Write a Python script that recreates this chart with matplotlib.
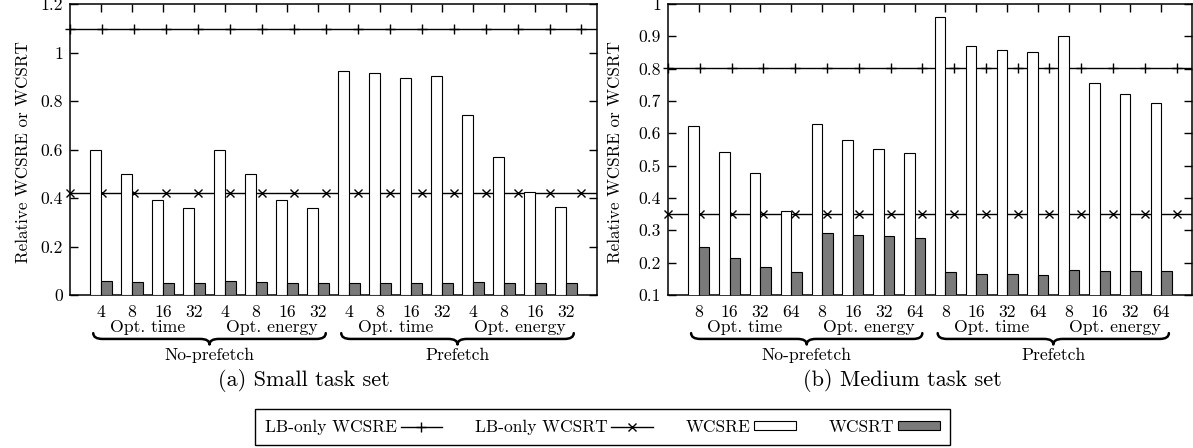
import numpy as np
import matplotlib
matplotlib.use('Agg')
import matplotlib.pyplot as plt
from matplotlib.path import Path
from matplotlib.patches import PathPatch, Patch
from matplotlib.lines import Line2D
import matplotlib.transforms as mtransforms

plt.rcParams['font.family'] = ['cmr10', 'DejaVu Serif']
plt.rcParams['mathtext.fontset'] = 'cm'
plt.rcParams['axes.formatter.use_mathtext'] = True

# data
small_sizes = ['4', '8', '16', '32']
medium_sizes = ['8', '16', '32', '64']
opt_groups = ['Opt. time', 'Opt. energy']
prefetch_groups = ['No-prefetch', 'Prefetch']

small_wcsre = [0.600, 0.500, 0.392, 0.357, 0.600, 0.500, 0.392, 0.357,
               0.925, 0.915, 0.896, 0.903, 0.742, 0.570, 0.423, 0.362]
small_wcsrt = [0.058, 0.055, 0.051, 0.050, 0.058, 0.055, 0.051, 0.050,
               0.050, 0.050, 0.050, 0.050, 0.052, 0.050, 0.050, 0.050]
small_lb_wcsre = 1.095
small_lb_wcsrt = 0.422

medium_wcsre = [0.624, 0.542, 0.478, 0.361, 0.628, 0.580, 0.553, 0.538,
                0.961, 0.871, 0.857, 0.851, 0.901, 0.757, 0.721, 0.693]
medium_wcsrt = [0.249, 0.213, 0.187, 0.170, 0.292, 0.286, 0.282, 0.277,
                0.170, 0.166, 0.164, 0.163, 0.176, 0.174, 0.174, 0.174]
medium_lb_wcsre = 0.803
medium_lb_wcsrt = 0.350

small_yticks = [0, 0.2, 0.4, 0.6, 0.8, 1.0, 1.2]
small_yticklabels = ['0', '0.2', '0.4', '0.6', '0.8', '1', '1.2']
medium_yticks = [0.1, 0.2, 0.3, 0.4, 0.5, 0.6, 0.7, 0.8, 0.9, 1.0]
medium_yticklabels = ['0.1', '0.2', '0.3', '0.4', '0.5', '0.6', '0.7', '0.8', '0.9', '1']

FS = 12.7
GRAY = '#7a7a7a'
BW = 0.34


def brace(ax, x0, x1):
    # curly brace under the axis, x in data coords, y in axes coords
    trans = mtransforms.blended_transform_factory(ax.transData, ax.transAxes)
    xm = (x0 + x1) / 2
    yt, ym, yb = -0.131, -0.151, -0.170
    d = 0.3
    verts = [(x0, yt), (x0, ym), (x0 + d, ym),
             (xm - d, ym),
             (xm, ym), (xm, yb),
             (xm, ym), (xm + d, ym),
             (x1 - d, ym),
             (x1, ym), (x1, yt)]
    codes = [Path.MOVETO, Path.CURVE3, Path.CURVE3,
             Path.LINETO,
             Path.CURVE3, Path.CURVE3,
             Path.CURVE3, Path.CURVE3,
             Path.LINETO,
             Path.CURVE3, Path.CURVE3]
    ax.add_patch(PathPatch(Path(verts, codes), transform=trans, fill=False,
                           lw=1.8, color='black', clip_on=False,
                           capstyle='round', joinstyle='round'))


def draw_panel(ax, sizes, wcsre, wcsrt, lb_re, lb_rt, ylim, yticks, yticklabels):
    x = np.arange(len(wcsre))
    ax.bar(x - BW / 2, wcsre, BW, color='white', edgecolor='black', lw=0.8, zorder=3)
    ax.bar(x + BW / 2, wcsrt, BW, color=GRAY, edgecolor='black', lw=0.8, zorder=3)

    # lower bound lines sit behind the bars
    mx = np.linspace(-1, 15.5, 17)
    ax.plot([-1, 16], [lb_re, lb_re], color='black', lw=1.0, zorder=2)
    ax.plot(mx, [lb_re] * len(mx), ls='none', marker='+', ms=7, mew=1.0,
            color='black', zorder=2, clip_on=False)
    ax.plot([-1, 16], [lb_rt, lb_rt], color='black', lw=1.0, zorder=2)
    ax.plot(mx, [lb_rt] * len(mx), ls='none', marker='x', ms=6, mew=1.0,
            color='black', zorder=2, clip_on=False)

    ax.set_xlim(-1, 16)
    ax.set_ylim(*ylim)
    ax.set_xticks(x)
    ax.set_xticklabels(sizes * 4, fontsize=FS)
    ax.set_yticks(yticks)
    ax.set_yticklabels(yticklabels, fontsize=FS)
    ax.tick_params(direction='in', length=6, width=1.0, top=True, right=True)
    ax.tick_params(axis='x', pad=7)
    ax.tick_params(axis='y', pad=5)
    for s in ax.spines.values():
        s.set_linewidth(1.1)
    ax.set_ylabel('Relative WCSRE or WCSRT', fontsize=12.3)

    for i in range(4):
        ax.text(1.5 + 4 * i, -0.11, opt_groups[i % 2], transform=ax.get_xaxis_transform(),
                ha='center', va='center', fontsize=FS)
    for j in range(2):
        brace(ax, 8 * j - 0.25, 8 * j + 7.25)
        ax.text(3.5 + 8 * j, -0.206, prefetch_groups[j], transform=ax.get_xaxis_transform(),
                ha='center', va='center', fontsize=FS)


fig = plt.figure(figsize=(11.93, 4.48), dpi=100)
ax1 = fig.add_axes([70 / 1193, 1 - 295 / 448, 527 / 1193, 291 / 448])
ax2 = fig.add_axes([668 / 1193, 1 - 295 / 448, 524 / 1193, 291 / 448])

draw_panel(ax1, small_sizes, small_wcsre, small_wcsrt, small_lb_wcsre, small_lb_wcsrt,
           (0, 1.2), small_yticks, small_yticklabels)
draw_panel(ax2, medium_sizes, medium_wcsre, medium_wcsrt, medium_lb_wcsre, medium_lb_wcsrt,
           (0.1, 1.0), medium_yticks, medium_yticklabels)
ax1.yaxis.set_label_coords(-0.074, 0.49)
ax2.yaxis.set_label_coords(-0.086, 0.49)

fig.text(304 / 1193, 1 - 380 / 448, '(a) Small task set', ha='center', va='center', fontsize=16)
fig.text(902 / 1193, 1 - 380 / 448, '(b) Medium task set', ha='center', va='center', fontsize=16)

handles = [Line2D([], [], color='black', lw=1.0, marker='+', ms=7, mew=1.0),
           Line2D([], [], color='black', lw=1.0, marker='x', ms=6, mew=1.0),
           Patch(facecolor='white', edgecolor='black', lw=0.8),
           Patch(facecolor=GRAY, edgecolor='black', lw=0.8)]
labels = ['LB-only WCSRE', 'LB-only WCSRT', 'WCSRE', 'WCSRT']
leg = fig.legend(handles, labels, loc='center', bbox_to_anchor=(0.505, 0.046), ncol=4,
                 markerfirst=False, fontsize=12.5, frameon=True, fancybox=False,
                 edgecolor='black', framealpha=1, handlelength=2.4, handleheight=0.4,
                 handletextpad=0.2, columnspacing=1.9, borderpad=0.6)
leg.get_frame().set_linewidth(1.0)

fig.savefig('out.png', dpi=100)
